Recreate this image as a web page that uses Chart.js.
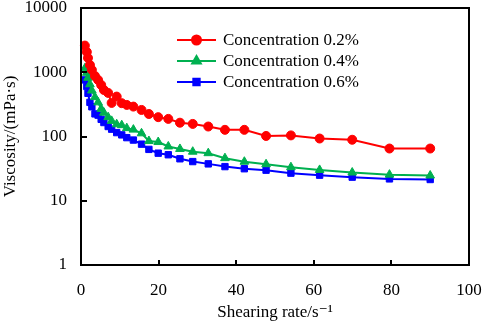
<!DOCTYPE html>
<html>
<head>
<meta charset="utf-8">
<script src="https://cdn.jsdelivr.net/npm/chart.js@4"></script>
<style>
html, body { margin: 0; padding: 0; background: #fff; }
#wrap { width: 484px; height: 325px; }
</style>
</head>
<body>
<div id="wrap"><canvas id="chart" width="484" height="325"></canvas></div>
<script>
// shearing rate (1/s), same sampling for the three solutions
const shearRate = [1, 1.5, 1.8, 2.3, 2.8, 3.6, 4.4, 5.2, 5.9, 7, 7.9, 9.2, 10.5, 11.8, 13.5,
    15.6, 17.5, 19.9, 22.5, 25.5, 28.8, 32.8, 37.1, 42.1, 47.7, 54.1, 61.5, 69.9, 79.5, 90];
// viscosity in mPa·s
const visc02 = [2600, 2070, 1670, 1300, 1090, 875, 760, 635, 530, 477, 333, 418, 330, 310, 292,
    259, 224, 200, 188, 164, 157, 143, 127, 127, 102, 104, 93, 89, 65, 65];
const visc04 = [1150, 980, 820, 650, 520, 410, 340, 270, 235, 200, 175, 155, 150, 135, 128,
    112, 85, 82, 70, 64, 58, 55, 46, 40.5, 37, 33.3, 30.2, 27.5, 25.5, 24.7];
const visc06 = [760, 600, 470, 340, 290, 225, 215, 185, 165, 143, 130, 115, 106, 96, 88,
    76, 63, 55, 52, 45, 40.7, 37.5, 34, 31.5, 29.9, 26.9, 25, 23.3, 21.9, 21.4];
const seriesLabels = ['Concentration 0.2%', 'Concentration 0.4%', 'Concentration 0.6%'];
const xTicks = [0, 20, 40, 60, 80, 100];
const yTicks = [1, 10, 100, 1000, 10000];

const serif = "'Liberation Serif', 'Times New Roman', 'DejaVu Serif', serif";

function pts(ys) {
    return shearRate.map((x, i) => ({ x: x, y: ys[i] }));
}

// keep the plot box fixed: no extra room for overhanging end labels
function fixScale(s, key, size) {
    s[key] = size;
    s.paddingLeft = 0;
    s.paddingRight = 0;
    s.paddingTop = 0;
    s.paddingBottom = 0;
}

// box round the plot plus the short inward tick marks
const framePlugin = {
    id: 'frame',
    afterDatasetsDraw(chart) {
        const ctx = chart.ctx;
        const a = chart.chartArea;
        const xs = chart.scales.x, ys = chart.scales.y;
        ctx.save();
        ctx.strokeStyle = '#000';
        ctx.lineWidth = 2;
        ctx.strokeRect(a.left, a.top, a.right - a.left, a.bottom - a.top);
        ctx.beginPath();
        xTicks.slice(1, -1).forEach(v => {
            const px = Math.round(xs.getPixelForValue(v));
            ctx.moveTo(px, a.bottom);
            ctx.lineTo(px, a.bottom - 5);
        });
        yTicks.slice(1, -1).forEach(v => {
            const py = Math.round(ys.getPixelForValue(v));
            ctx.moveTo(a.left, py);
            ctx.lineTo(a.left + 6, py);
        });
        ctx.stroke();
        ctx.restore();
    }
};

// legend drawn inside the plot area
const insideLegend = {
    id: 'insideLegend',
    afterDraw(chart, args, opts) {
        const ctx = chart.ctx;
        ctx.save();
        chart.data.datasets.forEach((ds, i) => {
            const y = opts.top + i * opts.rowGap;
            ctx.strokeStyle = ds.borderColor;
            ctx.lineWidth = 2;
            ctx.beginPath();
            ctx.moveTo(opts.left, y);
            ctx.lineTo(opts.left + opts.lineLen, y);
            ctx.stroke();
            ctx.fillStyle = ds.pointBackgroundColor;
            ctx.strokeStyle = ds.pointBorderColor;
            Chart.helpers.drawPoint(ctx, {
                pointStyle: ds.pointStyle,
                radius: ds.pointRadius,
                borderWidth: 1,
                rotation: 0
            }, opts.left + opts.lineLen / 2, y);
            ctx.fillStyle = '#000';
            ctx.font = '17px ' + serif;
            ctx.textBaseline = 'middle';
            ctx.textAlign = 'left';
            ctx.fillText(ds.label, opts.left + opts.lineLen + 7, y + 1);
        });
        ctx.restore();
    }
};

function makeSet(label, ys, color, style, r) {
    return {
        label: label,
        data: pts(ys),
        borderColor: color,
        backgroundColor: color,
        pointBackgroundColor: color,
        pointBorderColor: color,
        pointStyle: style,
        pointRadius: r,
        pointBorderWidth: 1,
        borderWidth: 2,
        tension: 0,
        clip: false
    };
}

new Chart(document.getElementById('chart').getContext('2d'), {
    type: 'line',
    data: {
        datasets: [
            makeSet(seriesLabels[0], visc02, '#ff0000', 'circle', 4.5),
            makeSet(seriesLabels[1], visc04, '#00b050', 'triangle', 5),
            makeSet(seriesLabels[2], visc06, '#0000ff', 'rect', 4.5)
        ]
    },
    plugins: [framePlugin, insideLegend],
    options: {
        responsive: false,
        animation: false,
        layout: { padding: { top: 8, right: 15, left: 0, bottom: 0 } },
        plugins: {
            legend: { display: false },
            tooltip: { enabled: false },
            insideLegend: { left: 177, top: 40, rowGap: 21, lineLen: 39 }
        },
        scales: {
            x: {
                type: 'linear',
                min: 0,
                max: 100,
                afterBuildTicks: s => { s.ticks = xTicks.map(v => ({ value: v })); },
                afterFit: s => fixScale(s, 'height', 60),
                grid: { display: false, drawTicks: false },
                border: { display: false },
                ticks: { color: '#000', font: { family: serif, size: 17 }, padding: 15, maxRotation: 0 },
                title: {
                    display: true,
                    text: 'Shearing rate/s\u207B\u00B9',
                    color: '#000',
                    font: { family: serif, size: 17 },
                    padding: { top: 0, bottom: 2 }
                }
            },
            y: {
                type: 'logarithmic',
                min: 1,
                max: 10000,
                afterBuildTicks: s => { s.ticks = yTicks.map(v => ({ value: v })); },
                afterFit: s => fixScale(s, 'width', 81),
                grid: { display: false, drawTicks: false },
                border: { display: false },
                ticks: {
                    color: '#000',
                    font: { family: serif, size: 17 },
                    padding: 14,
                    callback: v => String(v)
                },
                title: {
                    display: true,
                    text: 'Viscosity/(mPa\u00B7s)',
                    color: '#000',
                    font: { family: serif, size: 17 },
                    padding: { top: 0, bottom: 0 }
                }
            }
        }
    }
});
</script>
</body>
</html>
